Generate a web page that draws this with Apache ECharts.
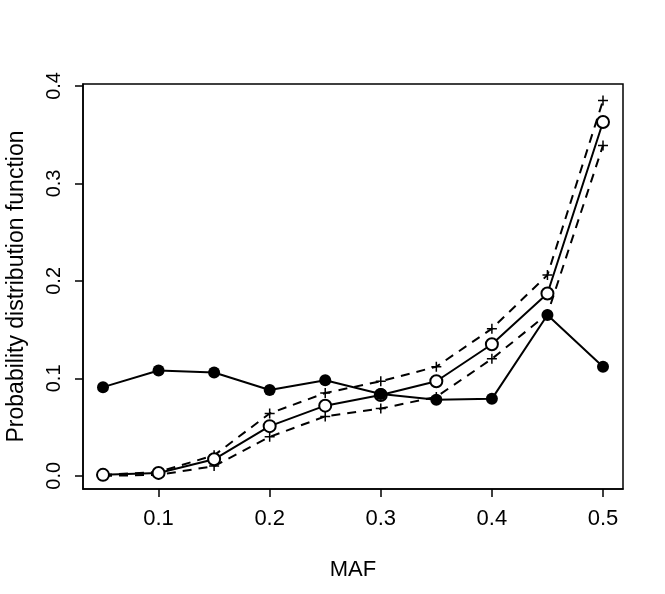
<!DOCTYPE html>
<html lang="en">
<head>
    <meta charset="UTF-8">
    <title>MAF</title>
    <style>
        html,body{
            margin: 0px;
            background: #fff;
        }
        #chart{
            width: 665px;
            height: 594px;
        }
    </style>
    <script src="https://cdn.jsdelivr.net/npm/echarts@6/dist/echarts.min.js"></script>
</head>
<body>
<div id="chart"></div>
<script>
    var maf = [0.05, 0.10, 0.15, 0.20, 0.25, 0.30, 0.35, 0.40, 0.45, 0.50];
    // filled dots
    var observed = [0.091, 0.108, 0.106, 0.088, 0.098, 0.084, 0.078, 0.079, 0.165, 0.112];
    // open circles
    var expected = [0.001, 0.003, 0.017, 0.051, 0.072, 0.083, 0.097, 0.135, 0.187, 0.363];
    // dashed bounds
    var upper = [0.001, 0.004, 0.021, 0.064, 0.085, 0.097, 0.112, 0.151, 0.206, 0.385];
    var lower = [0.000, 0.001, 0.010, 0.040, 0.061, 0.069, 0.081, 0.120, 0.166, 0.339];
    var xTicks = [0.1, 0.2, 0.3, 0.4, 0.5];
    var yTicks = [0.0, 0.1, 0.2, 0.3, 0.4];

    function pairs(ys) {
        return maf.map(function (x, i) { return [x, ys[i]]; });
    }

    var plusSym = 'path://M0,5L10,5M5,0L5,10';
    var font = 'Liberation Sans, Arial, sans-serif';

    var chart = echarts.init(document.getElementById('chart'));
    var option = {
        backgroundColor: '#fff',
        animation: false,
        grid: {
            left: 83, right: 42, top: 84, bottom: 105,
            outerBoundsMode: 'none',
            show: true, borderColor: '#000', borderWidth: 1.5
        },
        xAxis: {
            type: 'value',
            min: 0.032, max: 0.518,
            name: 'MAF',
            nameLocation: 'middle',
            nameGap: 70,
            nameTextStyle: {fontSize: 22, color: '#000', fontFamily: font},
            splitLine: {show: false},
            axisLine: {onZero: false, lineStyle: {color: '#000', width: 1.5}},
            axisTick: {customValues: xTicks, length: 8, lineStyle: {color: '#000', width: 1.5}},
            axisLabel: {
                customValues: xTicks, margin: 19, fontSize: 22, color: '#000', fontFamily: font,
                formatter: function (v) { return v.toFixed(1); }
            }
        },
        yAxis: {
            type: 'value',
            min: -0.0135, max: 0.402,
            name: 'Probability distribution function',
            nameLocation: 'middle',
            nameGap: 55,
            nameTextStyle: {fontSize: 23, color: '#000', fontFamily: font},
            splitLine: {show: false},
            axisLine: {show: true, onZero: false, lineStyle: {color: '#000', width: 1.5}},
            axisTick: {show: true, customValues: yTicks, length: 8, lineStyle: {color: '#000', width: 1.5}},
            axisLabel: {
                customValues: yTicks, margin: 19, fontSize: 20, color: '#000', fontFamily: font, rotate: 90,
                formatter: function (v) { return v.toFixed(1); }
            }
        },
        series: [
            {
                type: 'line', data: pairs(upper), symbol: plusSym, symbolSize: 10,
                lineStyle: {color: '#000', width: 2, type: [9, 7]},
                itemStyle: {color: 'none', borderColor: '#000', borderWidth: 1.5}
            },
            {
                type: 'line', data: pairs(lower), symbol: plusSym, symbolSize: 10,
                lineStyle: {color: '#000', width: 2, type: [9, 7]},
                itemStyle: {color: 'none', borderColor: '#000', borderWidth: 1.5}
            },
            {
                type: 'line', data: pairs(expected), symbol: 'emptyCircle', symbolSize: 12,
                lineStyle: {color: '#000', width: 2},
                itemStyle: {color: '#000', borderColor: '#000', borderWidth: 1.5}
            },
            {
                type: 'line', data: pairs(observed), symbol: 'circle', symbolSize: 12,
                lineStyle: {color: '#000', width: 2},
                itemStyle: {color: '#000'}
            }
        ]
    };
    chart.setOption(option);
</script>
</body>
</html>
